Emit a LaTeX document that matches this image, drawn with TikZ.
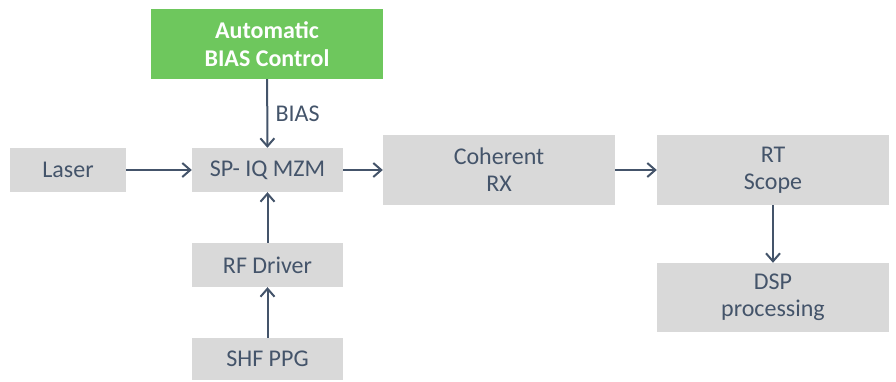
\documentclass[tikz,border=0pt]{standalone}
\usepackage{fontspec}
\setmainfont{Carlito}
\usetikzlibrary{arrows.meta, positioning}
\definecolor{boxgray}{HTML}{D9D9D9}
\definecolor{biasgreen}{HTML}{6EC75D}
\definecolor{inkblue}{HTML}{44546A}
\tikzset{
    block/.style={fill=boxgray, text=inkblue, align=center, inner sep=0pt,
        font=\fontsize{24}{27}\selectfont},
    ctrl/.style={fill=biasgreen, text=white, align=center, inner sep=0pt,
        font=\fontsize{24}{28}\selectfont\bfseries},
    link/.style={-{Straight Barb[length=8pt,width=14pt]}, line width=2pt, draw=inkblue}
}
\begin{document}
\begin{tikzpicture}[x=1pt, y=-1pt]
    \useasboundingbox (0,0) rectangle (896,381);
    % Transmitter side
    \node[ctrl, minimum width=232pt, minimum height=70pt] (bias) at (267,44) {Automatic\\BIAS Control};
    \node[block, minimum width=116pt, minimum height=44pt] (laser) at (68,170) {Laser};
    \node[block, minimum width=151pt, minimum height=44pt] (mzm) at (267.5,170) {SP- IQ MZM};
    \node[block, minimum width=151pt, minimum height=44pt] (driver) at (267.5,265) {RF Driver};
    \node[block, minimum width=151pt, minimum height=42pt] (ppg) at (267.5,359) {SHF PPG};
    
    % Receiver side
    \node[block, minimum width=232pt, minimum height=70pt] (rx) at (499,170) {Coherent\\RX};
    \node[block, minimum width=232pt, minimum height=70pt] (scope) at (773,170) {RT\\Scope};
    \node[block, minimum width=232pt, minimum height=69pt] (dsp) at (773,297.5) {DSP\\processing};
    
    % Connections
    \draw[link] (bias) -- (mzm) node[midway, right=4pt, text=inkblue, font=\fontsize{24}{27}\selectfont] {BIAS};
    \draw[link] (laser) -- (mzm);
    \draw[link] (mzm) -- (rx);
    \draw[link] (rx) -- (scope);
    \draw[link] (scope) -- (dsp);
    \draw[link] (ppg) -- (driver);
    \draw[link] (driver) -- (mzm);
\end{tikzpicture}
\end{document}
